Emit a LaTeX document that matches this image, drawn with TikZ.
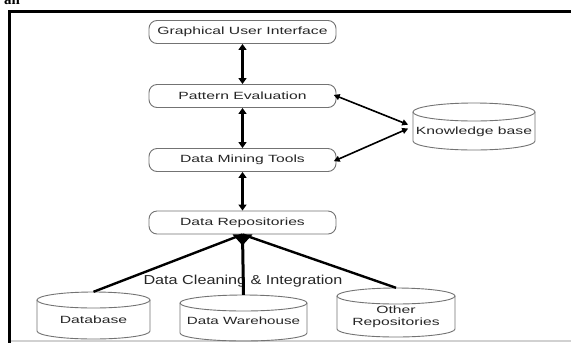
\documentclass[tikz,border=0pt]{standalone}
\usepackage{fontspec}
\usepackage{graphicx}
\setmainfont{Liberation Serif}
\newfontfamily\arialf{Liberation Sans}
\usetikzlibrary{arrows.meta,calc}
\tikzset{
  box/.style={draw=black!55, line width=0.9bp, rounded corners=8bp,
    minimum width=187bp, minimum height=23bp, inner sep=0pt,
    text=black!85, font=\arialf\fontsize{10.5}{12}\selectfont},
  cyl/.style={draw=black!55, line width=0.9bp},
  cyltext/.style={inner sep=0pt, align=center, text=black!85,
    font=\arialf\fontsize{10.5}{12.5}\selectfont},
  link/.style={line width=2.8bp,
    {Triangle[length=6bp,width=8bp]}-{Triangle[length=6bp,width=8bp]}},
  kblink/.style={line width=1.6bp,
    {Triangle[length=6bp,width=6bp]}-{Triangle[length=6bp,width=6bp]}},
  fan/.style={line width=2.4bp},
  fanv/.style={line width=3bp},
  lbl/.style={inner sep=0pt, text=black!85, font=\arialf\fontsize{13}{14}\selectfont}
}
\newcommand\wid[1]{\scalebox{1.5}[1]{#1}}
% name, cx, top, width, bottom, ry, text y, text
\newcommand\cylnode[8]{%
  \node[inner sep=0pt, minimum width=#4bp, minimum height={(#5-#3)*1bp}] (#1) at (#2,{(#3+#5)/2}) {};
  \draw[cyl] (#2,#3+#6) ellipse[x radius=#4/2, y radius=#6];
  \draw[cyl] (#2-#4/2,#3+#6) -- (#2-#4/2,#5-#6)
    arc[start angle=180, end angle=0, x radius=#4/2, y radius=#6] -- (#2+#4/2,#3+#6);
  \node[cyltext] (#1-t) at (#2,#7) {#8};
}
\begin{document}
\begin{tikzpicture}[x=1bp, y=-1bp]
  \useasboundingbox (0,0) rectangle (571,347);
  \fill[white] (0,0) rectangle (571,347);
  % frame
  \draw[line width=3bp] (571,11) -- (9.5,11) -- (9.5,343);
  \draw[black!18, line width=2bp] (11,341) -- (571,341);
  \node[anchor=base west, inner sep=0pt, font=\bfseries\fontsize{15}{15}\selectfont] (an) at (4,4) {an};

  % boxes
  \node[box] (gui) at (242.5,32)    {\wid{Graphical User Interface}};
  \node[box] (pe)  at (242.5,96)    {\wid{Pattern Evaluation}};
  \node[box] (dmt) at (242.5,160)   {\wid{Data Mining Tools}};
  \node[box] (dr)  at (242.5,222.5) {\wid{Data Repositories}};

  % cylinders
  \cylnode{kb}{474}{103}{122}{150}{9}{132}{\wid{Knowledge base}}
  \cylnode{db}{93.5}{292}{113}{339}{8}{320}{\wid{Database}}
  \cylnode{dw}{243.5}{295}{127}{341}{8}{321}{\scalebox{1.45}[1]{Data Warehouse}}
  \cylnode{or}{396}{288}{118}{337}{8}{317}{\wid{Other}\\\wid{Repositories}}

  % vertical links
  \draw[link] (gui) -- (pe);
  \draw[link] (pe) -- (dmt);
  \draw[link] (dmt) -- (dr);

  % knowledge base links
  \draw[kblink, shorten <=5bp, shorten >=-3bp] (kb.west) -- (pe.east);
  \draw[kblink, shorten <=5bp, shorten >=-3bp] (kb.west) -- (dmt.east);

  % integration label
  \node[lbl] (dci) at (243,281) {\scalebox{1.25}[1]{Data Cleaning \& Integration}};

  % fan-in
  \draw[fan] (db.north) -- (dr.south);
  \draw[fan] (or.north) -- (dr.south);
  \draw[fanv] (dw.north) -- (dr.south);
  \fill ($(dr.south)+(-10,0)$) -- ($(dr.south)+(10,0)$) -- ($(dr.south)+(0,11)$) -- cycle;
\end{tikzpicture}
\end{document}
